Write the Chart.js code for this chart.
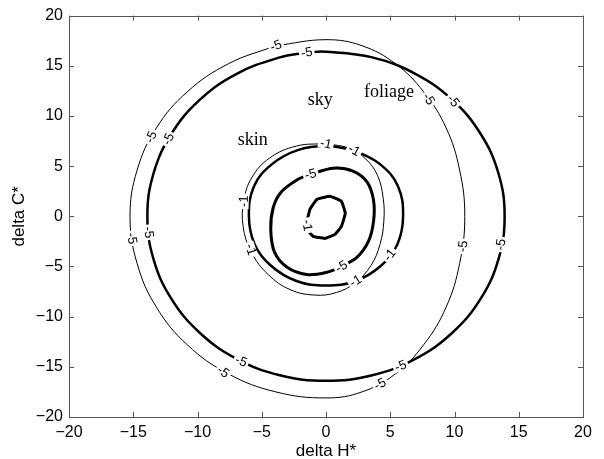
<!DOCTYPE html>
<html><head><meta charset="utf-8">
<script src="https://cdn.jsdelivr.net/npm/chart.js@4.4.1/dist/chart.umd.min.js"></script>
<style>html,body{margin:0;padding:0;background:#fff}</style>
</head><body>
<canvas id="c" width="604" height="459"></canvas>
<script>
// ---- axis data ----
const tickValues = [-20, -15, -10, -5, 0, 5, 10, 15, 20];
const tickLabels = ['\u221220', '\u221215', '\u221210', '\u22125', '0', '5', '10', '15', '20'];
const xTitle = 'delta H*';
const yTitle = 'delta C*';

// ---- contour curves ----
const skyThinX = [-3.9, -7.6, -10.8, -13.2, -14.7, -15.25, -14.7, -13.2, -10.8, -7.6, -3.9, 0, 2.8, 5.4, 7.6, 9.35, 10.4, 10.8, 10.4, 9.35, 7.6, 5.4, 2.8, 0, -3.9];
const skyThinY = [17.0, 15.2, 12.4, 8.8, 4.6, 0, -4.7, -9.05, -12.8, -15.7, -17.5, -18.1, -17.5, -15.7, -12.8, -9.05, -4.7, 0, 4.6, 8.8, 12.4, 15.2, 17.0, 17.6, 17.0];
const skyThinLabelX = [-3.9, -13.6, -15.1, -8.0, 4.2, 8.0, 10.65];
const skyThinLabelY = [17.0, 7.9, -2.2, -15.5, -16.7, 11.7, -3.0];

const foliageThickX = [-1.5, -3.6, -6.95, -9.83, -12.04, -13.43, -13.9, -13.43, -12.04, -9.83, -6.95, -3.6, 0, 3.6, 6.95, 9.83, 12.04, 13.43, 13.9, 13.43, 12.04, 9.83, 6.95, 3.6, 0, -1.5];
const foliageThickY = [16.33, 15.84, 14.2, 11.6, 8.2, 4.24, 0, -4.24, -8.2, -11.6, -14.2, -15.84, -16.4, -15.84, -14.2, -11.6, -8.2, -4.24, 0, 4.24, 8.2, 11.6, 14.2, 15.84, 16.4, 16.33];
const foliageThickLabelX = [-1.5, -12.27, -13.8, -6.6, 5.8, 9.9, 13.6];
const foliageThickLabelY = [16.33, 7.7, -1.6, -14.43, -14.9, 11.5, -2.8];

const skinThinX = [0, 1.9, 3.1, 4.0, 4.45, 4.5, 4.2, 3.5, 2.3, 0.8, -0.9, -2.8, -4.5, -5.8, -6.45, -6.4, -5.8, -4.4, -2.3, 0];
const skinThinY = [7.25, 6.75, 5.7, 4.1, 1.8, -0.5, -2.8, -4.9, -6.6, -7.6, -7.85, -7.3, -5.8, -3.6, -1.0, 1.5, 3.8, 5.8, 7.0, 7.25];
const skinThinLabelX = [0, -6.4, -5.85];
const skinThinLabelY = [7.25, 1.5, -3.3];

const skinThickX = [2.2, 4.2, 5.6, 6.0, 5.55, 4.3, 2.3, 0, -2.3, -4.3, -5.55, -6.0, -5.6, -4.2, -2.2, 0, 2.2];
const skinThickY = [6.6, 5.2, 3.0, 0, -2.8, -4.9, -6.45, -6.9, -6.45, -4.9, -2.8, 0, 3.0, 5.2, 6.6, 7.0, 6.6];
const skinThickLabelX = [2.2, 4.95, 2.3];
const skinThickLabelY = [6.6, -3.85, -6.45];

const skinMidX = [-1.2, 0.55, 2.1, 3.2, 3.7, 3.7, 3.3, 2.4, 1.2, 0.0, -1.5, -3.0, -4.0, -4.3, -4.1, -3.5, -2.3, -1.2];
const skinMidY = [4.2, 4.8, 4.5, 3.4, 1.6, -0.5, -2.5, -4.1, -5.0, -5.6, -5.8, -5.1, -3.6, -1.3, 0.9, 2.4, 3.6, 4.2];
const skinMidLabelX = [-1.2, 1.2];
const skinMidLabelY = [4.2, -5.0];

const skinCoreX = [-1.5, -1.25, -0.7, 0.3, 1.2, 1.5, 1.2, 0.7, -0.1, -1.0, -1.4, -1.5];
const skinCoreY = [-0.6, 0.7, 1.7, 2.0, 1.5, 0.3, -1.0, -1.8, -2.2, -2.0, -1.4, -0.6];
const skinCoreLabelX = [-1.45];
const skinCoreLabelY = [-0.9];

// ---- region names ----
const regionNames = ['sky', 'foliage', 'skin'];
const regionX = [-0.45, 4.9, -5.7];
const regionY = [11.6, 12.4, 7.6];

const SANS = '"Liberation Sans", Arial, Helvetica, sans-serif';
const SERIF = '"Liberation Serif", "Times New Roman", serif';

function pts(xs, ys) { return xs.map((x, i) => ({ x: x, y: ys[i] })); }
function curve(xs, ys, lx, ly, text, width, tension) {
  return {
    data: pts(xs, ys), showLine: true, borderColor: '#000', backgroundColor: '#000',
    borderWidth: width, tension: tension, pointRadius: 0, fill: false,
    labelX: lx, labelY: ly, labelText: text
  };
}

const frameAndTicks = {
  id: 'frameAndTicks',
  afterDatasetsDraw(chart) {
    const { ctx, chartArea: a, scales: { x, y } } = chart;
    ctx.save();
    ctx.strokeStyle = '#555';
    ctx.lineWidth = 1;
    ctx.strokeRect(Math.round(a.left) + 0.5, Math.round(a.top) + 0.5, Math.round(a.right - a.left), Math.round(a.bottom - a.top));
    const L = 5;
    ctx.beginPath();
    tickValues.forEach(v => {
      const px = Math.round(x.getPixelForValue(v)) + 0.5;
      ctx.moveTo(px, a.bottom); ctx.lineTo(px, a.bottom - L);
      ctx.moveTo(px, a.top); ctx.lineTo(px, a.top + L);
      const py = Math.round(y.getPixelForValue(v)) + 0.5;
      ctx.moveTo(a.left, py); ctx.lineTo(a.left + L, py);
      ctx.moveTo(a.right, py); ctx.lineTo(a.right - L, py);
    });
    ctx.stroke();
    ctx.restore();
  }
};

const contourLabels = {
  id: 'contourLabels',
  afterDatasetsDraw(chart) {
    const ctx = chart.ctx, xs = chart.scales.x, ys = chart.scales.y;
    ctx.save();
    ctx.font = '13px ' + SANS;
    chart.data.datasets.forEach((ds, i) => {
      if (!ds.labelX) return;
      const p = chart.getDatasetMeta(i).data.map(e => ({ x: e.x, y: e.y }));
      ds.labelX.forEach((lx, k) => {
        const px = xs.getPixelForValue(lx), py = ys.getPixelForValue(ds.labelY[k]);
        let best = 1e12, ang = 0;
        for (let j = 0; j < p.length - 1; j++) {
          const A = p[j], B = p[j + 1], dx = B.x - A.x, dy = B.y - A.y, LL = dx * dx + dy * dy;
          let t = LL ? ((px - A.x) * dx + (py - A.y) * dy) / LL : 0;
          t = Math.max(0, Math.min(1, t));
          const qx = A.x + t * dx - px, qy = A.y + t * dy - py, d = qx * qx + qy * qy;
          if (d < best) { best = d; ang = Math.atan2(dy, dx); }
        }
        if (ang > Math.PI / 2) ang -= Math.PI;
        if (ang < -Math.PI / 2) ang += Math.PI;
        ctx.save();
        ctx.translate(px, py);
        ctx.rotate(ang);
        const w = ctx.measureText(ds.labelText).width;
        ctx.fillStyle = '#fff';
        ctx.fillRect(-w / 2 - 2, -5, w + 4, 10);
        ctx.fillStyle = '#000';
        ctx.textAlign = 'center';
        ctx.textBaseline = 'middle';
        ctx.fillText(ds.labelText, 0, 0.5);
        ctx.restore();
      });
    });
    ctx.font = '18px ' + SERIF;
    ctx.fillStyle = '#000';
    ctx.textAlign = 'center';
    ctx.textBaseline = 'middle';
    regionNames.forEach((n, i) => {
      ctx.fillText(n, xs.getPixelForValue(regionX[i]), ys.getPixelForValue(regionY[i]));
    });
    ctx.restore();
  }
};

const tickOpts = {
  autoSkip: false, maxRotation: 0, minRotation: 0, padding: 6, color: '#000',
  font: { family: SANS, size: 16 },
  callback: (v) => { const i = tickValues.indexOf(v); return i >= 0 ? tickLabels[i] : ''; }
};

new Chart(document.getElementById('c'), {
  type: 'scatter',
  data: {
    datasets: [
      curve(skyThinX, skyThinY, skyThinLabelX, skyThinLabelY, '-5', 1, 0.4),
      curve(foliageThickX, foliageThickY, foliageThickLabelX, foliageThickLabelY, '-5', 2.5, 0.4),
      curve(skinThinX, skinThinY, skinThinLabelX, skinThinLabelY, '-1', 1, 0.4),
      curve(skinThickX, skinThickY, skinThickLabelX, skinThickLabelY, '-1', 2.5, 0.4),
      curve(skinMidX, skinMidY, skinMidLabelX, skinMidLabelY, '-5', 3, 0.3),
      curve(skinCoreX, skinCoreY, skinCoreLabelX, skinCoreLabelY, '-1', 3, 0.1)
    ]
  },
  options: {
    responsive: false, animation: false, devicePixelRatio: 1,
    layout: { padding: { top: 13, right: 21, left: 0, bottom: 0 } },
    plugins: { legend: { display: false }, tooltip: { enabled: false } },
    elements: { point: { radius: 0 } },
    scales: {
      x: {
        type: 'linear', min: -20, max: 20,
        afterBuildTicks: (s) => { s.ticks = tickValues.map(v => ({ value: v })); },
        afterFit: (s) => { s.height = 42; },
        ticks: tickOpts,
        grid: { display: false, drawTicks: false },
        border: { display: false },
        title: { display: true, text: xTitle, color: '#000', font: { family: SANS, size: 17, lineHeight: 0.9 }, padding: { top: 0, bottom: 0 } }
      },
      y: {
        type: 'linear', min: -20, max: 20,
        afterBuildTicks: (s) => { s.ticks = tickValues.map(v => ({ value: v })); },
        afterFit: (s) => { s.width = 69; },
        ticks: tickOpts,
        grid: { display: false, drawTicks: false },
        border: { display: false },
        title: { display: true, text: yTitle, color: '#000', font: { family: SANS, size: 17 }, padding: { top: 9, bottom: 0 } }
      }
    }
  },
  plugins: [frameAndTicks, contourLabels]
});
</script>
</body></html>
